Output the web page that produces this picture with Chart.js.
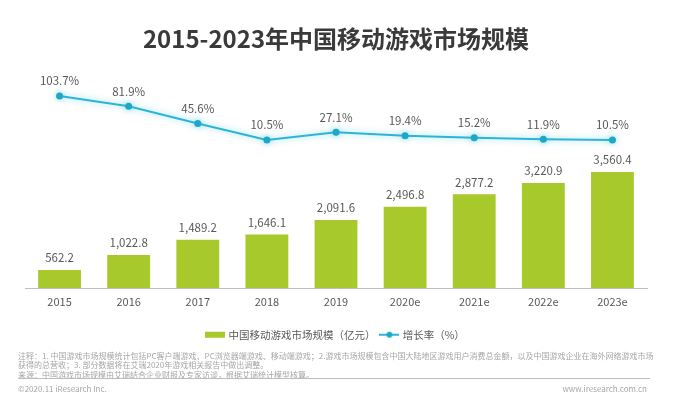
<!DOCTYPE html>
<html>
<head>
<meta charset="utf-8">
<script src="https://cdn.jsdelivr.net/npm/chart.js@4.4.1/dist/chart.umd.min.js"></script>
<style>
    body { margin: 0; background: #fff; font-family: 'Microsoft YaHei', 'Noto Sans CJK SC', sans-serif; }
    #wrap { position: relative; width: 690px; height: 412px; overflow: hidden; }
    #box { position: absolute; left: 0; top: 0; width: 690px; height: 354px; }
    .note { position: absolute; left: 18px; color: #a6a6a6; font-size: 8px; line-height: 9.3px; white-space: nowrap; }
    #rule { position: absolute; left: 18px; width: 632px; top: 378px; border-top: 1px solid #bdbdbd; }
</style>
</head>
<body>
<div id="wrap">
    <div id="box"><canvas id="grafico"></canvas></div>
    <div class="note" style="top:351px">注释：1. 中国游戏市场规模统计包括PC客户端游戏、PC浏览器端游戏、移动端游戏；2.游戏市场规模包含中国大陆地区游戏用户消费总金额，以及中国游戏企业在海外网络游戏市场<br>获得的总营收；3. 部分数据将在艾瑞2020年游戏相关报告中做出调整。<br>来源：中国游戏市场规模由艾瑞结合企业财报及专家访谈，根据艾瑞统计模型核算。</div>
    <div id="rule"></div>
    <div class="note" style="top:384px">©2020.11 iResearch Inc.</div>
    <div class="note" style="top:384px;left:auto;right:43px">www.iresearch.com.cn</div>
</div>
<script>
const anos = ['2015', '2016', '2017', '2018', '2019', '2020e', '2021e', '2022e', '2023e'];
const mercado = [562.2, 1022.8, 1489.2, 1646.1, 2091.6, 2496.8, 2877.2, 3220.9, 3560.4];
const crescimento = [103.7, 81.9, 45.6, 10.5, 27.1, 19.4, 15.2, 11.9, 10.5];

const VERDE = '#a8c92c';
const AZUL = '#2bb6d6';
const CINZA = '#595959';
const FONTE = "'Microsoft YaHei', 'Noto Sans CJK SC', sans-serif";

Chart.defaults.font.family = FONTE;

// marcadores da legenda (retangulo verde e linha com ponto)
function marcador(tipo) {
    const c = document.createElement('canvas');
    c.width = 20;
    c.height = 8;
    const g = c.getContext('2d');
    if (tipo === 'barra') {
        g.fillStyle = VERDE;
        g.fillRect(0, 1, 20, 6);
    } else {
        g.strokeStyle = AZUL;
        g.lineWidth = 2;
        g.beginPath();
        g.moveTo(0, 4);
        g.lineTo(20, 4);
        g.stroke();
        g.fillStyle = '#1fa7c8';
        g.beginPath();
        g.arc(10, 4, 3, 0, Math.PI * 2);
        g.fill();
    }
    return c;
}

// rotulos de valor em cima das barras e dos pontos
const rotulos = {
    id: 'rotulos',
    afterDatasetsDraw(chart) {
        const ctx = chart.ctx;
        ctx.save();
        ctx.font = '11.5px ' + FONTE;
        ctx.fillStyle = CINZA;
        ctx.textAlign = 'center';
        ctx.textBaseline = 'middle';
        chart.data.datasets.forEach((ds, i) => {
            chart.getDatasetMeta(i).data.forEach((el, j) => {
                const v = ds.data[j];
                if (ds.type === 'line') {
                    ctx.fillText(v.toFixed(1) + '%', el.x, el.y - 15);
                } else {
                    ctx.fillText(v.toLocaleString('en-US', { minimumFractionDigits: 1 }), el.x, el.y - 12);
                }
            });
        });
        ctx.restore();
    }
};

// brilho suave em volta da linha
const brilho = {
    id: 'brilho',
    beforeDatasetDraw(chart, args) {
        if (args.meta.type !== 'line') return;
        chart.ctx.save();
        chart.ctx.shadowColor = 'rgba(43,182,214,0.55)';
        chart.ctx.shadowBlur = 6;
    },
    afterDatasetDraw(chart, args) {
        if (args.meta.type !== 'line') return;
        chart.ctx.restore();
    }
};

const ctx = document.getElementById('grafico').getContext('2d');

new Chart(ctx, {
    data: {
        labels: anos,
        datasets: [{
            type: 'bar',
            label: '中国移动游戏市场规模（亿元）',
            data: mercado,
            backgroundColor: VERDE,
            barPercentage: 0.62,
            categoryPercentage: 1,
            yAxisID: 'y',
            order: 2
        }, {
            type: 'line',
            label: '增长率（%）',
            data: crescimento,
            borderColor: AZUL,
            borderWidth: 2,
            pointRadius: 3.5,
            pointBackgroundColor: '#1fa7c8',
            pointBorderWidth: 0,
            tension: 0,
            yAxisID: 'y1',
            order: 1
        }]
    },
    options: {
        responsive: true,
        maintainAspectRatio: false,
        animation: false,
        layout: {
            padding: { left: 25, right: 43, top: 0, bottom: 4 }
        },
        plugins: {
            title: {
                display: true,
                text: '2015-2023年中国移动游戏市场规模',
                color: '#3a3a3a',
                fullSize: false,
                font: { size: 24, weight: 'bold' },
                padding: { top: 24, bottom: 17 }
            },
            legend: {
                position: 'bottom',
                fullSize: false,
                labels: {
                    color: CINZA,
                    font: { size: 10.5 },
                    usePointStyle: true,
                    pointStyleWidth: 16,
                    padding: 6,
                    generateLabels(chart) {
                        return chart.data.datasets.map((ds, i) => ({
                            text: ds.label,
                            datasetIndex: i,
                            fontColor: CINZA,
                            pointStyle: marcador(ds.type === 'line' ? 'linha' : 'barra'),
                            lineWidth: 0,
                            hidden: false
                        }));
                    }
                }
            },
            tooltip: { enabled: false }
        },
        scales: {
            x: {
                grid: { display: false, drawTicks: false },
                border: { display: true, color: '#bfbfbf', width: 1 },
                ticks: { color: CINZA, font: { size: 11 }, padding: 7 },
                afterFit(scale) {
                    scale.height += 8; // espaco entre os anos e a legenda
                }
            },
            y: {
                display: false,
                min: 0,
                max: 6690
            },
            y1: {
                display: false,
                min: -303,
                max: 159
            }
        }
    },
    plugins: [rotulos, brilho]
});
</script>
</body>
</html>
